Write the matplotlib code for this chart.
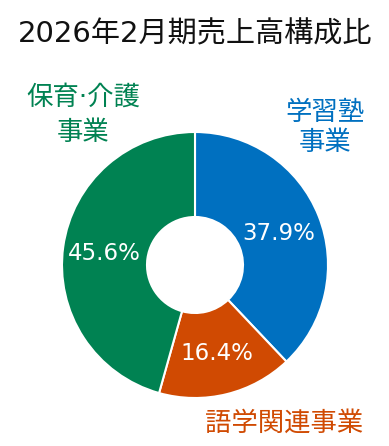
import matplotlib
matplotlib.use("Agg")
import matplotlib.pyplot as plt

plt.rcParams['font.family'] = ['DejaVu Sans', 'Noto Sans CJK JP']

title = "2026年2月期売上高構成比"
categories = ["学習塾\n事業", "語学関連事業", "保育·介護\n事業"]
shares = [37.9, 16.4, 45.6]
colors = ["#0070C0", "#D04A02", "#008252"]

W, H = 389, 446
fig = plt.figure(figsize=(W / 100, H / 100), dpi=100)
ax = fig.add_axes([0, 0, 1, 1])

cx, cy = 195, H - 265
R, r_in = 133, 48
ax.pie(shares, colors=colors, startangle=90, counterclock=False,
       center=(cx, cy), radius=R, frame=True,
       wedgeprops=dict(width=R - r_in, edgecolor='white', linewidth=1.5))
ax.set_xlim(0, W)
ax.set_ylim(0, H)
ax.set_aspect('equal')
ax.axis('off')

ax.text(195, H - 34, title, ha='center', va='center', fontsize=21, color='#111111')

# percentage labels
pct_pos = [(279, 233.5), (216.5, 353.5), (104, 253.5)]
for (x, y), v in zip(pct_pos, shares):
    ax.text(x, H - y, f"{v}%", ha='center', va='center', color='white', fontsize=16.5)

# category labels (one text per line)
cat_pos = [[(325, 113.5), (325, 143.5)],
           [(284.5, 423.5)],
           [(83.5, 97.5), (83, 133.5)]]
for pos, name, c in zip(cat_pos, categories, colors):
    for (x, y), line in zip(pos, name.split("\n")):
        ax.text(x, H - y, line, ha='center', va='center', color=c, fontsize=19)

fig.savefig("out.png", dpi=100)
